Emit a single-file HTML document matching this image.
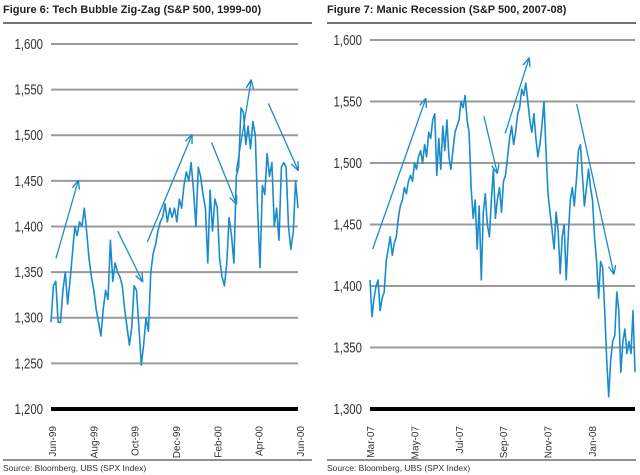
<!DOCTYPE html>
<html><head><meta charset="utf-8"><style>
body{margin:0;background:#fff;width:640px;height:475px;overflow:hidden;font-family:"Liberation Sans",sans-serif}
svg{display:block}
</style></head><body>
<svg id="s" width="640" height="475">
<defs><marker id="ah" viewBox="0 0 10 10" refX="9" refY="5" markerWidth="7" markerHeight="7" orient="auto"><path d="M0,1 L10,5 L0,9" fill="none" stroke="#1a8ccc" stroke-width="1.5"/></marker></defs>
<text x="3" y="13" font-size="11" font-weight="bold" fill="#222">Figure 6: Tech Bubble Zig-Zag (S&amp;P 500, 1999-00)</text>
<line x1="3" y1="23" x2="312" y2="23" stroke="#222" stroke-width="1.2"/>
<line x1="3" y1="460" x2="312" y2="460" stroke="#222" stroke-width="1"/>
<text x="3" y="471" font-size="8.5" fill="#333">Source:  Bloomberg, UBS (SPX Index)</text>
<text x="327" y="13" font-size="11" font-weight="bold" fill="#222">Figure 7: Manic Recession (S&amp;P 500, 2007-08)</text>
<line x1="327" y1="23" x2="636" y2="23" stroke="#222" stroke-width="1.2"/>
<line x1="327" y1="460" x2="636" y2="460" stroke="#222" stroke-width="1"/>
<text x="327" y="471" font-size="8.5" fill="#333">Source:  Bloomberg, UBS (SPX Index)</text>
</svg>
<script>
const leftTicks=[1200,1250,1300,1350,1400,1450,1500,1550,1600];
const leftMonths=["Jun-99","Aug-99","Oct-99","Dec-99","Feb-00","Apr-00","Jun-00"];
const leftValues=[1295,1335,1340,1295,1295,1330,1350,1315,1340,1370,1400,1390,1405,1400,1420,1395,1365,1345,1330,1310,1295,1280,1310,1330,1320,1385,1340,1360,1350,1345,1335,1310,1290,1270,1290,1335,1330,1290,1248,1270,1300,1285,1350,1370,1380,1395,1405,1410,1425,1405,1420,1410,1420,1405,1430,1420,1445,1460,1450,1470,1440,1400,1465,1455,1435,1420,1360,1440,1395,1430,1420,1365,1345,1335,1360,1410,1390,1360,1455,1465,1530,1525,1490,1510,1485,1515,1500,1420,1355,1445,1435,1480,1455,1470,1400,1420,1385,1465,1470,1465,1400,1375,1395,1450,1420];
const leftArrows=[[0.02,1365,0.11,1450],[0.27,1395,0.37,1340],[0.39,1383,0.57,1500],[0.65,1492,0.75,1425],[0.75,1460,0.81,1560],[0.88,1535,1.0,1462]];
const rightTicks=[1300,1350,1400,1450,1500,1550,1600];
const rightMonths=["Mar-07","May-07","Jul-07","Sep-07","Nov-07","Jan-08"];
const rightValues=[1405,1375,1390,1400,1405,1380,1390,1395,1420,1430,1440,1425,1435,1440,1455,1465,1470,1480,1475,1485,1490,1485,1500,1495,1505,1510,1500,1515,1505,1525,1520,1535,1540,1490,1520,1495,1530,1510,1535,1505,1495,1510,1525,1530,1535,1550,1545,1555,1535,1525,1480,1455,1470,1430,1465,1405,1460,1475,1450,1440,1470,1495,1455,1470,1480,1460,1485,1490,1505,1520,1530,1515,1525,1540,1545,1560,1555,1565,1550,1535,1525,1540,1520,1505,1515,1530,1550,1510,1475,1460,1445,1430,1460,1445,1410,1440,1450,1405,1440,1470,1480,1465,1485,1510,1515,1490,1465,1480,1495,1480,1470,1440,1420,1390,1420,1415,1380,1340,1310,1340,1355,1360,1395,1380,1330,1355,1365,1345,1355,1345,1380,1330];
const rightArrows=[[0.01,1430,0.21,1552],[0.43,1538,0.48,1492],[0.51,1524,0.60,1585],[0.78,1548,0.92,1410]];
const svg=document.getElementById('s');
const NS="http://www.w3.org/2000/svg";
function mk(tag,attrs){const e=document.createElementNS(NS,tag);for(const k in attrs)e.setAttribute(k,attrs[k]);svg.appendChild(e);return e;}
function draw(side,x0,x1,yTop,yBot,ticks,months,monthX0,monthX1,vals,arrows){
  const vmin=ticks[0],vmax=ticks[ticks.length-1];
  const Y=v=>yBot-(v-vmin)/(vmax-vmin)*(yBot-yTop);
  const X=f=>x0+f*(x1-x0);
  ticks.forEach((t,i)=>{
    const l=mk('line',{x1:x0,x2:x1,y1:Y(t),y2:Y(t),stroke:i==0?'#000':'#9a9a9a','stroke-width':i==0?4:2});
    
    
    const tx=mk('text',{x:x0-8,y:Y(t)+5,'font-size':15,'text-anchor':'end',fill:'#333',transform:`translate(${x0-8},0) scale(0.76,1) translate(${-(x0-8)},0)`});
    tx.textContent=t.toLocaleString('en-US');
    
    
  });
  months.forEach((m,i)=>{
    const mx=monthX0+i*(monthX1-monthX0)/(months.length-1);
    const tx=mk('text',{x:0,y:0,'font-size':10,'text-anchor':'end',fill:'#333',transform:`translate(${mx+4},${yBot+17}) rotate(-90)`});
    tx.textContent=m;
    
    
  });
  const n=vals.length;
  const pts=vals.map((v,i)=>X(i/(n-1)).toFixed(1)+','+Y(v).toFixed(1)).join(' ');
  const pl=mk('polyline',{points:pts,fill:'none',stroke:'#1a8ccc','stroke-width':1.6,'stroke-linejoin':'round'});
  
  
  arrows.forEach(a=>{
    const ar=mk('line',{x1:X(a[0]),y1:Y(a[1]),x2:X(a[2]),y2:Y(a[3]),stroke:'#1a8ccc','stroke-width':1.3,'marker-end':'url(#ah)'});
    
    
  });
}
draw('left',51,298,44,409,leftTicks,leftMonths,52,300,leftValues,leftArrows);
draw('right',370,635,40,409,rightTicks,rightMonths,370,592,rightValues,rightArrows);
</script>
</body></html>
